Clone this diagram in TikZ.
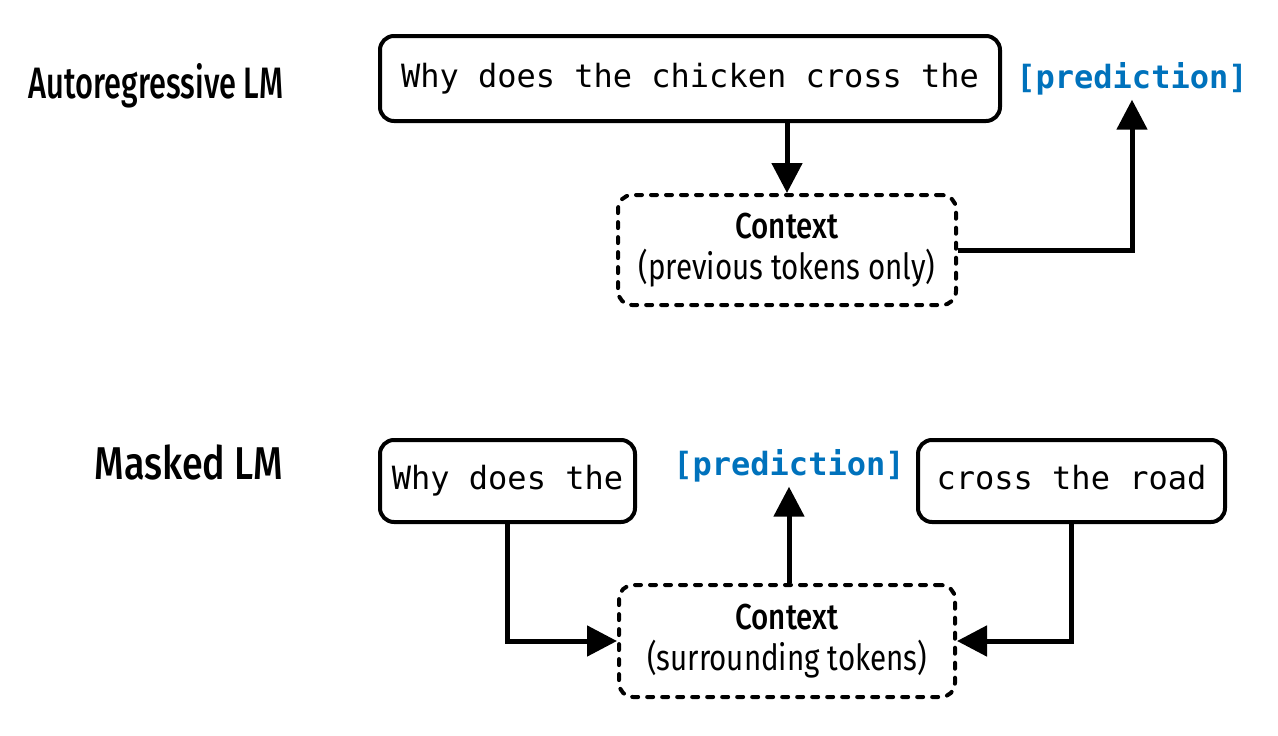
\documentclass[tikz,border=0pt]{standalone}
\usepackage{fontspec}
\newfontfamily\cond{Fira Sans}[FakeStretch=0.82,BoldFont={Fira Sans Medium}]
\newfontfamily\condA{Fira Sans Medium}[FakeStretch=0.70]
\newfontfamily\condB{Fira Sans Medium}[FakeStretch=0.82]
\newfontfamily\mono{DejaVu Sans Mono}
\definecolor{predblue}{RGB}{0,114,188}
\usetikzlibrary{arrows.meta}
\begin{document}
\begin{tikzpicture}[x=1pt,y=-1pt,
  solidbox/.style={draw=black,line width=4pt,rounded corners=14pt,inner sep=0pt,text height=24pt,text depth=7pt,font=\mono\fontsize{32}{36}\selectfont},
  ctxbox/.style={draw=black,line width=4pt,line cap=round,dash pattern=on 6pt off 9pt,rounded corners=14pt,inner sep=0pt,align=center,font=\cond\fontsize{36}{41}\selectfont},
  pred/.style={text=predblue,font=\mono\bfseries\fontsize{32}{36}\selectfont,inner sep=0pt,text height=24pt,text depth=7pt},
  lbl/.style={inner sep=0pt,anchor=base},
  arr/.style={line width=5pt,-{Triangle[length=30pt,width=30pt]}}
]
\useasboundingbox (0,0) rectangle (1278,736);
% Autoregressive
\node[lbl,font=\condA\fontsize{44}{48}\selectfont] (lab1) at (156,98) {Autoregressive LM};
\node[solidbox,minimum width=620pt,minimum height=85pt] (box1) at (690,78.5) {Why does the chicken cross the};
\node[pred] (pred1) at (1132,80) {[prediction]};
\node[ctxbox,minimum width=338pt,minimum height=110pt] (ctx1) at (787,250) {{\bfseries Context}\\(previous tokens only)};
\draw[arr] (box1.south -| ctx1.north) -- (ctx1.north);
\draw[arr] (ctx1.east) -| ([yshift=-4pt]pred1.south);
% Masked
\node[lbl,font=\condB\fontsize{46}{50}\selectfont] (lab2) at (189,479) {Masked LM};
\node[solidbox,minimum width=255pt,minimum height=82pt] (boxA) at (507.5,481) {Why does the};
\node[pred] (pred2) at (789,467) {[prediction]};
\node[solidbox,minimum width=307pt,minimum height=82pt] (boxC) at (1071.5,481) {cross the road};
\node[ctxbox,minimum width=336pt,minimum height=112pt] (ctx2) at (787,641) {{\bfseries Context}\\(surrounding tokens)};
\draw[arr] (ctx2.north -| pred2.south) -- ([yshift=-4pt]pred2.south);
\draw[arr] (boxA.south) |- (ctx2.west);
\draw[arr] (boxC.south) |- (ctx2.east);
\end{tikzpicture}
\end{document}
